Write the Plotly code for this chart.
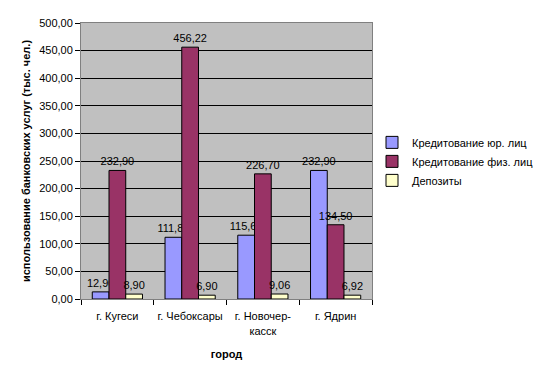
import plotly.graph_objects as go

cities = ["г. Кугеси", "г. Чебоксары", "г. Новочер-<br>касск", "г. Ядрин"]
series_names = ["Кредитование юр. лиц", "Кредитование физ. лиц", "Депозиты"]
legal = [12.90, 111.80, 115.60, 232.90]
physical = [232.90, 456.22, 226.70, 134.50]
deposits = [8.90, 6.90, 9.06, 6.92]
colors = ["#9999FF", "#993366", "#FFFFCC"]
y_ticks = [0, 50, 100, 150, 200, 250, 300, 350, 400, 450, 500]

font = "Liberation Sans, Arial, sans-serif"
fig = go.Figure()
for name, vals, col in zip(series_names, [legal, physical, deposits], colors):
    fig.add_trace(go.Bar(
        x=cities, y=vals, name=name,
        marker=dict(color=col, line=dict(color="black", width=1)),
        text=vals, texttemplate="%{y:.2f}", textposition="outside",
        textfont=dict(family=font, size=11, color="black"),
        constraintext="none",
        cliponaxis=False,
    ))

fig.update_layout(
    width=551, height=377,
    margin=dict(l=81, r=159, t=23, b=78),
    paper_bgcolor="white", plot_bgcolor="#C0C0C0",
    separators=", ",
    barmode="group", bargap=0.31, bargroupgap=0,
    font=dict(family=font, size=11, color="black"),
    showlegend=True,
    legend=dict(x=1.0, y=0.62, xanchor="left", yanchor="top",
                font=dict(size=11), tracegroupgap=0,
                bgcolor="rgba(0,0,0,0)"),
)
fig.update_xaxes(
    title=dict(text="<b>город</b>", font=dict(size=11), standoff=14),
    showline=True, linecolor="#808080", linewidth=1, mirror=True,
    ticks="outside", tickson="boundaries", ticklen=5, tickcolor="black",
    showgrid=False, tickfont=dict(size=11), tickangle=0,
    ticklabelstandoff=7,
)
fig.update_yaxes(
    title=dict(text="<b>использование банковских услуг (тыс. чел.)</b>", font=dict(size=11), standoff=6),
    range=[0, 500], tickvals=y_ticks, tickformat=".2f",
    showline=True, linecolor="#808080", linewidth=1, mirror=True,
    ticks="outside", ticklen=5, tickcolor="black",
    showgrid=True, gridcolor="black", gridwidth=1,
    zeroline=False, tickfont=dict(size=11),
)
fig.write_html("out.html")
